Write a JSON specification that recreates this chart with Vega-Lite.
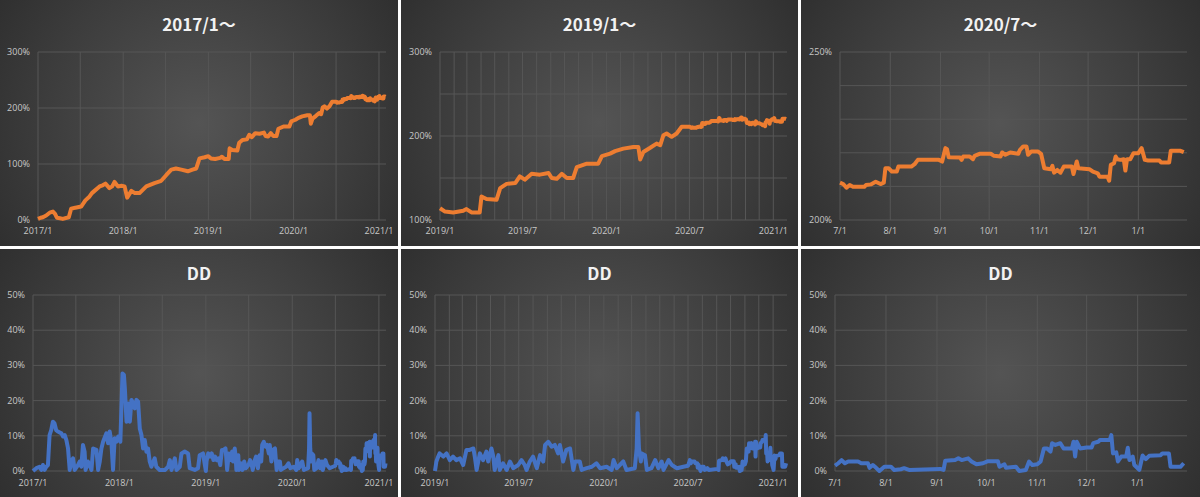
{
"$schema": "https://vega.github.io/schema/vega-lite/v6.json",
"padding": 0,
"background": "white",
"config": {
  "view": {"stroke": null, "fill": {"gradient": "radial", "x1": 0.5, "y1": 0.5, "r1": 0, "x2": 0.5, "y2": 0.5, "r2": 0.72, "stops": [{"offset": 0, "color": "#545454"}, {"offset": 0.55, "color": "#3c3c3c"}, {"offset": 1, "color": "#272727"}]}},
  "concat": {"spacing": 3},
  "text": {"color": "#c8c8c8", "font": "Open Sans", "fontSize": 9},
  "title": {"color": "#f2f2f2", "font": "Noto Sans CJK JP", "fontSize": 17, "fontWeight": "bold", "offset": -35, "anchor": "middle", "frame": "group"}
},
"datasets": {
  "vA": [{"g":"2017-01-01"},{"g":"2017-07-01"},{"g":"2018-01-01"},{"g":"2018-07-01"},{"g":"2019-01-01"},{"g":"2019-07-01"},{"g":"2020-01-01"},{"g":"2020-07-01"},{"g":"2021-01-01"}],
  "vB": [{"g":"2019-01-01"},{"g":"2019-02-01"},{"g":"2019-03-01"},{"g":"2019-04-01"},{"g":"2019-05-01"},{"g":"2019-06-01"},{"g":"2019-07-01"},{"g":"2019-08-01"},{"g":"2019-09-01"},{"g":"2019-10-01"},{"g":"2019-11-01"},{"g":"2019-12-01"},{"g":"2020-01-01"},{"g":"2020-02-01"},{"g":"2020-03-01"},{"g":"2020-04-01"},{"g":"2020-05-01"},{"g":"2020-06-01"},{"g":"2020-07-01"},{"g":"2020-08-01"},{"g":"2020-09-01"},{"g":"2020-10-01"},{"g":"2020-11-01"},{"g":"2020-12-01"},{"g":"2021-01-01"}],
  "vC": [{"g":"2020-07-01"},{"g":"2020-08-01"},{"g":"2020-09-01"},{"g":"2020-10-01"},{"g":"2020-11-01"},{"g":"2020-12-01"},{"g":"2021-01-01"}],
  "xA": [{"g":"2017-01-01"},{"g":"2018-01-01"},{"g":"2019-01-01"},{"g":"2020-01-01"},{"g":"2021-01-01"}],
  "xB": [{"g":"2019-01-01"},{"g":"2019-07-01"},{"g":"2020-01-01"},{"g":"2020-07-01"},{"g":"2021-01-01"}],
  "h1": [{"v":0},{"v":100},{"v":200},{"v":300}],
  "h2": [{"v":100},{"v":150},{"v":200},{"v":250},{"v":300}],
  "y2": [{"v":100},{"v":200},{"v":300}],
  "h3": [{"v":200},{"v":210},{"v":220},{"v":230},{"v":240},{"v":250}],
  "y3": [{"v":200},{"v":250}],
  "hD": [{"v":0},{"v":10},{"v":20},{"v":30},{"v":40},{"v":50}],
  "eq": [
{"d":"2017-01-01","v":2},{"d":"2017-01-12","v":4},{"d":"2017-01-22","v":5},{"d":"2017-02-05","v":8},{"d":"2017-02-20","v":13},{"d":"2017-03-06","v":15},{"d":"2017-03-15","v":11},{"d":"2017-03-23","v":4},{"d":"2017-04-05","v":3},{"d":"2017-04-17","v":2},{"d":"2017-05-13","v":5},{"d":"2017-05-23","v":20},{"d":"2017-06-10","v":22},{"d":"2017-07-05","v":24},{"d":"2017-07-15","v":30},{"d":"2017-07-23","v":35},{"d":"2017-08-10","v":42},{"d":"2017-08-20","v":48},{"d":"2017-08-31","v":52},{"d":"2017-09-22","v":60},{"d":"2017-10-05","v":62},{"d":"2017-10-17","v":65},{"d":"2017-11-03","v":57},{"d":"2017-11-15","v":60},{"d":"2017-11-25","v":68},{"d":"2017-12-09","v":60},{"d":"2017-12-25","v":61},{"d":"2018-01-07","v":60},{"d":"2018-01-18","v":40},{"d":"2018-02-05","v":52},{"d":"2018-02-20","v":48},{"d":"2018-03-12","v":48},{"d":"2018-04-10","v":60},{"d":"2018-05-15","v":66},{"d":"2018-06-13","v":70},{"d":"2018-07-04","v":80},{"d":"2018-07-26","v":90},{"d":"2018-08-15","v":92},{"d":"2018-09-07","v":90},{"d":"2018-10-05","v":87},{"d":"2018-10-25","v":90},{"d":"2018-11-10","v":92},{"d":"2018-11-24","v":110},{"d":"2018-12-16","v":112},
{"d":"2019-01-01","v":114},{"d":"2019-01-12","v":110},{"d":"2019-01-30","v":109},{"d":"2019-02-21","v":111},{"d":"2019-02-28","v":113},{"d":"2019-03-11","v":109},{"d":"2019-03-29","v":109},{"d":"2019-04-02","v":128},{"d":"2019-04-13","v":125},{"d":"2019-05-05","v":124},{"d":"2019-05-13","v":138},{"d":"2019-05-27","v":143},{"d":"2019-06-15","v":144},{"d":"2019-06-25","v":152},{"d":"2019-07-06","v":148},{"d":"2019-07-21","v":155},{"d":"2019-08-08","v":154},{"d":"2019-08-27","v":156},{"d":"2019-09-03","v":150},{"d":"2019-09-14","v":149},{"d":"2019-09-25","v":155},{"d":"2019-10-06","v":150},{"d":"2019-10-20","v":150},{"d":"2019-10-28","v":163},{"d":"2019-11-19","v":167},{"d":"2019-12-14","v":167},{"d":"2019-12-22","v":176},{"d":"2020-01-09","v":179},{"d":"2020-01-20","v":182},{"d":"2020-02-07","v":185},{"d":"2020-02-29","v":187},{"d":"2020-03-11","v":187},{"d":"2020-03-15","v":172},{"d":"2020-03-22","v":181},{"d":"2020-04-06","v":186},{"d":"2020-04-20","v":191},{"d":"2020-04-28","v":189},{"d":"2020-05-05","v":201},{"d":"2020-05-12","v":203},{"d":"2020-05-23","v":199},{"d":"2020-06-03","v":203},{"d":"2020-06-14","v":211},
{"d":"2020-07-01","v":211.1},{"d":"2020-07-03","v":210.7},{"d":"2020-07-05","v":209.6},{"d":"2020-07-07","v":210.4},{"d":"2020-07-09","v":209.9},{"d":"2020-07-16","v":209.9},{"d":"2020-07-17","v":210.4},{"d":"2020-07-20","v":210.6},{"d":"2020-07-23","v":211.4},{"d":"2020-07-26","v":210.7},{"d":"2020-07-28","v":211.1},{"d":"2020-07-29","v":215.4},{"d":"2020-07-31","v":215.4},{"d":"2020-08-02","v":214.4},{"d":"2020-08-05","v":214.4},{"d":"2020-08-06","v":215.9},{"d":"2020-08-14","v":215.9},{"d":"2020-08-16","v":216.6},{"d":"2020-08-18","v":217.9},{"d":"2020-08-31","v":217.9},{"d":"2020-09-02","v":217.4},{"d":"2020-09-04","v":221.4},{"d":"2020-09-05","v":221.1},{"d":"2020-09-06","v":218.7},{"d":"2020-09-13","v":218.6},{"d":"2020-09-14","v":217.9},{"d":"2020-09-15","v":218.9},{"d":"2020-09-19","v":218.9},{"d":"2020-09-21","v":218.1},{"d":"2020-09-22","v":219.1},{"d":"2020-09-25","v":219.7},{"d":"2020-10-02","v":219.7},{"d":"2020-10-04","v":219.1},{"d":"2020-10-08","v":218.9},{"d":"2020-10-09","v":220.1},{"d":"2020-10-11","v":219.4},{"d":"2020-10-14","v":220.1},{"d":"2020-10-19","v":219.7},{"d":"2020-10-20","v":220.9},{"d":"2020-10-22","v":221.9},{"d":"2020-10-24","v":221.9},{"d":"2020-10-25","v":219.4},{"d":"2020-10-27","v":220.4},{"d":"2020-10-31","v":220.4},{"d":"2020-11-02","v":219.7},{"d":"2020-11-04","v":215.4},{"d":"2020-11-08","v":215.1},{"d":"2020-11-09","v":216.1},{"d":"2020-11-10","v":214.1},{"d":"2020-11-12","v":214.9},{"d":"2020-11-14","v":214.1},{"d":"2020-11-16","v":215.9},{"d":"2020-11-21","v":215.9},{"d":"2020-11-22","v":213.7},{"d":"2020-11-24","v":217.4},{"d":"2020-11-25","v":215.4},{"d":"2020-12-02","v":215.1},{"d":"2020-12-04","v":214.4},{"d":"2020-12-07","v":213.9},{"d":"2020-12-08","v":212.9},{"d":"2020-12-13","v":212.9},{"d":"2020-12-14","v":211.7},{"d":"2020-12-15","v":216.4},{"d":"2020-12-17","v":216.9},{"d":"2020-12-18","v":218.9},{"d":"2020-12-19","v":218.1},{"d":"2020-12-21","v":217.9},{"d":"2020-12-23","v":218.1},{"d":"2020-12-24","v":214.7},{"d":"2020-12-25","v":218.1},{"d":"2020-12-27","v":218.1},{"d":"2020-12-29","v":219.9},{"d":"2021-01-01","v":219.9},{"d":"2021-01-03","v":221.4},{"d":"2021-01-05","v":217.9},{"d":"2021-01-07","v":217.7},{"d":"2021-01-14","v":217.7},{"d":"2021-01-15","v":217.1},{"d":"2021-01-20","v":217.1},{"d":"2021-01-21","v":220.6},{"d":"2021-01-27","v":220.6},{"d":"2021-01-29","v":220.2}
  ],
  "dd": [
{"d":"2017-01-01","v":0},{"d":"2017-01-15","v":0.8},{"d":"2017-01-29","v":1.2},{"d":"2017-02-05","v":0.3},{"d":"2017-02-12","v":1.7},{"d":"2017-02-19","v":0.3},{"d":"2017-02-26","v":1.2},{"d":"2017-03-05","v":1.7},{"d":"2017-03-12","v":10.2},{"d":"2017-03-19","v":11.6},{"d":"2017-03-26","v":14},{"d":"2017-04-02","v":13.5},{"d":"2017-04-09","v":11.6},{"d":"2017-04-16","v":11.2},{"d":"2017-05-01","v":10.7},{"d":"2017-05-08","v":9.8},{"d":"2017-05-15","v":10.2},{"d":"2017-05-22","v":8.8},{"d":"2017-05-29","v":6.4},{"d":"2017-06-05","v":0.3},{"d":"2017-06-12","v":2.7},{"d":"2017-06-19","v":3.6},{"d":"2017-06-26","v":0.3},{"d":"2017-07-10","v":1.7},{"d":"2017-07-17","v":2.7},{"d":"2017-07-24","v":1.2},{"d":"2017-07-31","v":7.4},{"d":"2017-08-07","v":5.5},{"d":"2017-08-11","v":0.3},{"d":"2017-08-21","v":2.7},{"d":"2017-09-05","v":0.3},{"d":"2017-09-12","v":6.4},{"d":"2017-09-26","v":6},{"d":"2017-10-03","v":0.3},{"d":"2017-10-10","v":2.7},{"d":"2017-10-17","v":6.4},{"d":"2017-10-24","v":8.3},{"d":"2017-11-07","v":10.7},{"d":"2017-11-14","v":7.9},{"d":"2017-11-21","v":11.2},{"d":"2017-11-28","v":8.3},{"d":"2017-12-05","v":0.3},{"d":"2017-12-12","v":9.3},{"d":"2017-12-19","v":8.3},{"d":"2017-12-27","v":9.8},{"d":"2018-01-05","v":8.3},{"d":"2018-01-14","v":27.7},{"d":"2018-01-20","v":27.3},{"d":"2018-01-24","v":23.5},{"d":"2018-01-31","v":14},{"d":"2018-02-07","v":19.2},{"d":"2018-02-14","v":14},{"d":"2018-02-21","v":20.2},{"d":"2018-02-28","v":19.2},{"d":"2018-03-07","v":17.8},{"d":"2018-03-14","v":20.2},{"d":"2018-03-21","v":19.7},{"d":"2018-03-28","v":12.1},{"d":"2018-04-04","v":10.2},{"d":"2018-04-11","v":6.4},{"d":"2018-04-18","v":8.8},{"d":"2018-04-25","v":5.5},{"d":"2018-05-02","v":6.4},{"d":"2018-05-09","v":2.7},{"d":"2018-05-16","v":1.2},{"d":"2018-05-30","v":3.6},{"d":"2018-06-06","v":1.2},{"d":"2018-06-20","v":0.3},{"d":"2018-07-12","v":0.3},{"d":"2018-07-26","v":1.2},{"d":"2018-08-02","v":3.1},{"d":"2018-08-09","v":0.3},{"d":"2018-08-23","v":3.6},{"d":"2018-08-30","v":0.3},{"d":"2018-09-13","v":1.2},{"d":"2018-09-20","v":5},{"d":"2018-10-04","v":5.5},{"d":"2018-10-18","v":5},{"d":"2018-10-25","v":0.8},{"d":"2018-11-15","v":0.3},{"d":"2018-11-29","v":0.8},{"d":"2018-12-06","v":4.5},{"d":"2018-12-20","v":5},
{"d":"2019-01-01","v":0},{"d":"2019-01-04","v":2.7},{"d":"2019-01-08","v":4.1},{"d":"2019-01-11","v":5},{"d":"2019-01-19","v":4.1},{"d":"2019-01-26","v":5},{"d":"2019-02-02","v":3.1},{"d":"2019-02-09","v":4.1},{"d":"2019-02-16","v":3.1},{"d":"2019-02-24","v":3.6},{"d":"2019-03-03","v":1.7},{"d":"2019-03-10","v":6},{"d":"2019-03-17","v":6},{"d":"2019-03-25","v":6.4},{"d":"2019-03-28","v":4.1},{"d":"2019-04-01","v":0.3},{"d":"2019-04-08","v":5},{"d":"2019-04-15","v":3.1},{"d":"2019-04-22","v":5.5},{"d":"2019-04-26","v":2.7},{"d":"2019-05-03","v":6.4},{"d":"2019-05-07","v":4.1},{"d":"2019-05-10","v":0.3},{"d":"2019-05-18","v":4.5},{"d":"2019-05-21","v":0.3},{"d":"2019-05-28","v":2.2},{"d":"2019-06-05","v":0.3},{"d":"2019-06-12","v":2.7},{"d":"2019-06-19","v":0.8},{"d":"2019-06-30","v":1.7},{"d":"2019-07-07","v":3.1},{"d":"2019-07-14","v":1.7},{"d":"2019-07-18","v":0.3},{"d":"2019-07-25","v":2.7},{"d":"2019-08-01","v":4.1},{"d":"2019-08-09","v":0.8},{"d":"2019-08-16","v":4.5},{"d":"2019-08-23","v":2.7},{"d":"2019-08-27","v":7.4},{"d":"2019-09-03","v":8.3},{"d":"2019-09-10","v":6.9},{"d":"2019-09-17","v":7.4},{"d":"2019-09-24","v":5},{"d":"2019-09-28","v":7.4},{"d":"2019-10-05","v":2.7},{"d":"2019-10-12","v":6},{"d":"2019-10-20","v":6.4},{"d":"2019-10-27","v":0.3},{"d":"2019-10-31","v":2.7},{"d":"2019-11-10","v":2.7},{"d":"2019-11-14","v":0.3},{"d":"2019-11-25","v":0.8},{"d":"2019-12-06","v":1.2},{"d":"2019-12-16","v":2.2},{"d":"2019-12-24","v":0.8},{"d":"2020-01-07","v":1.2},{"d":"2020-01-18","v":0.3},{"d":"2020-01-22","v":3.1},{"d":"2020-01-29","v":0.8},{"d":"2020-02-12","v":2.7},{"d":"2020-02-19","v":0.3},{"d":"2020-03-08","v":0.8},{"d":"2020-03-12","v":6.4},{"d":"2020-03-14","v":16.4},{"d":"2020-03-17","v":6.4},{"d":"2020-03-21","v":2.7},{"d":"2020-03-23","v":5},{"d":"2020-03-30","v":4.5},{"d":"2020-04-03","v":0.3},{"d":"2020-04-13","v":0.8},{"d":"2020-04-21","v":3.1},{"d":"2020-04-28","v":0.8},{"d":"2020-05-05","v":2.7},{"d":"2020-05-09","v":0.3},{"d":"2020-05-20","v":3.1},{"d":"2020-05-27","v":1.7},{"d":"2020-06-07","v":0.8},{"d":"2020-06-21","v":1.2},
{"d":"2020-07-01","v":1.5},{"d":"2020-07-03","v":2.2},{"d":"2020-07-05","v":3.1},{"d":"2020-07-07","v":2.2},{"d":"2020-07-09","v":2.7},{"d":"2020-07-15","v":2.7},{"d":"2020-07-17","v":2.2},{"d":"2020-07-21","v":2.2},{"d":"2020-07-22","v":0.9},{"d":"2020-07-24","v":1.7},{"d":"2020-07-26","v":0.9},{"d":"2020-07-28","v":0},{"d":"2020-07-31","v":1.2},{"d":"2020-08-04","v":1.2},{"d":"2020-08-06","v":0.3},{"d":"2020-08-10","v":0.5},{"d":"2020-08-12","v":0.8},{"d":"2020-08-15","v":0.3},{"d":"2020-09-03","v":0.6},{"d":"2020-09-05","v":0.3},{"d":"2020-09-06","v":2.9},{"d":"2020-09-12","v":3.1},{"d":"2020-09-14","v":3.6},{"d":"2020-09-16","v":3.1},{"d":"2020-09-20","v":3.6},{"d":"2020-09-22","v":2.7},{"d":"2020-09-25","v":1.9},{"d":"2020-09-29","v":2.2},{"d":"2020-10-02","v":2.8},{"d":"2020-10-08","v":2.8},{"d":"2020-10-09","v":1.2},{"d":"2020-10-12","v":1.9},{"d":"2020-10-13","v":0.9},{"d":"2020-10-19","v":1.2},{"d":"2020-10-21","v":0},{"d":"2020-10-25","v":0.3},{"d":"2020-10-27","v":2.7},{"d":"2020-10-29","v":1.7},{"d":"2020-11-01","v":1.9},{"d":"2020-11-03","v":2.7},{"d":"2020-11-05","v":6.4},{"d":"2020-11-07","v":6.4},{"d":"2020-11-09","v":5.5},{"d":"2020-11-10","v":7.9},{"d":"2020-11-12","v":7.4},{"d":"2020-11-15","v":7.9},{"d":"2020-11-17","v":6.4},{"d":"2020-11-22","v":6.4},{"d":"2020-11-23","v":8.3},{"d":"2020-11-24","v":4.1},{"d":"2020-11-25","v":8.3},{"d":"2020-11-27","v":6.4},{"d":"2020-12-01","v":6.7},{"d":"2020-12-04","v":6.7},{"d":"2020-12-05","v":7.9},{"d":"2020-12-08","v":8.3},{"d":"2020-12-09","v":8.8},{"d":"2020-12-15","v":8.8},{"d":"2020-12-16","v":10.2},{"d":"2020-12-17","v":5},{"d":"2020-12-19","v":5.3},{"d":"2020-12-20","v":2.7},{"d":"2020-12-22","v":4.1},{"d":"2020-12-25","v":4.1},{"d":"2020-12-26","v":6.6},{"d":"2020-12-27","v":3.1},{"d":"2020-12-29","v":4.1},{"d":"2020-12-30","v":1.7},{"d":"2021-01-02","v":0.3},{"d":"2021-01-04","v":4.4},{"d":"2021-01-06","v":3.4},{"d":"2021-01-08","v":4.3},{"d":"2021-01-15","v":4.5},{"d":"2021-01-16","v":5},{"d":"2021-01-20","v":5},{"d":"2021-01-21","v":1.2},{"d":"2021-01-27","v":1.2},{"d":"2021-01-29","v":2.2}
  ]
},
"vconcat": [
{"hconcat": [
 {"width": 398, "height": 246, "title": "2017/1～",
  "layer": [
   {"data": {"name": "vA"}, "mark": {"type": "rule", "color": "#565656", "strokeWidth": 1},
    "encoding": {"x": {"field": "g", "type": "temporal", "axis": null, "scale": {"type": "utc", "domain": [{"year":2017,"month":1,"date":1,"utc":true},{"year":2021,"month":1,"date":31,"utc":true}], "range": [38, 386], "nice": false}},
                 "y": {"datum": 0, "type": "quantitative", "axis": null, "scale": {"domain": [0, 300], "range": [220, 52], "nice": false, "zero": false}},
                 "y2": {"datum": 300}}},
   {"data": {"name": "h1"}, "mark": {"type": "rule", "color": "#565656", "strokeWidth": 1},
    "encoding": {"y": {"field": "v", "type": "quantitative", "axis": null},
                 "x": {"datum": {"year":2017,"month":1,"date":1,"utc":true}, "type": "temporal", "axis": null},
                 "x2": {"datum": {"year":2021,"month":1,"date":31,"utc":true}}}},
   {"data": {"name": "xA"}, "transform": [{"calculate": "utcFormat(toDate(datum.g), '%Y/%-m')", "as": "t"}], "mark": {"type": "text", "baseline": "top", "dy": 7},
    "encoding": {"x": {"field": "g", "type": "temporal", "axis": null}, "y": {"datum": 0, "type": "quantitative", "axis": null}, "text": {"field": "t"}}},
   {"data": {"name": "h1"}, "transform": [{"calculate": "datum.v + '%'", "as": "t"}], "mark": {"type": "text", "align": "right", "baseline": "middle", "dx": -8},
    "encoding": {"y": {"field": "v", "type": "quantitative", "axis": null}, "x": {"datum": {"year":2017,"month":1,"date":1,"utc":true}, "type": "temporal", "axis": null}, "text": {"field": "t"}}},
   {"data": {"name": "eq"}, "mark": {"type": "line", "color": "#ED7D31", "strokeWidth": 4, "strokeJoin": "round"},
    "encoding": {"x": {"field": "d", "type": "temporal", "axis": null},
                 "y": {"field": "v", "type": "quantitative", "axis": null}}}
  ]},
 {"width": 397, "height": 246, "title": "2019/1～",
  "layer": [
   {"data": {"name": "vB"}, "mark": {"type": "rule", "color": "#565656", "strokeWidth": 1},
    "encoding": {"x": {"field": "g", "type": "temporal", "axis": null, "scale": {"type": "utc", "domain": [{"year":2019,"month":1,"date":1,"utc":true},{"year":2021,"month":1,"date":31,"utc":true}], "range": [39, 386], "nice": false}},
                 "y": {"datum": 100, "type": "quantitative", "axis": null, "scale": {"domain": [100, 300], "range": [220, 52], "nice": false, "zero": false}},
                 "y2": {"datum": 300}}},
   {"data": {"name": "h2"}, "mark": {"type": "rule", "color": "#565656", "strokeWidth": 1},
    "encoding": {"y": {"field": "v", "type": "quantitative", "axis": null},
                 "x": {"datum": {"year":2019,"month":1,"date":1,"utc":true}, "type": "temporal", "axis": null},
                 "x2": {"datum": {"year":2021,"month":1,"date":31,"utc":true}}}},
   {"data": {"name": "xB"}, "transform": [{"calculate": "utcFormat(toDate(datum.g), '%Y/%-m')", "as": "t"}], "mark": {"type": "text", "baseline": "top", "dy": 7},
    "encoding": {"x": {"field": "g", "type": "temporal", "axis": null}, "y": {"datum": 100, "type": "quantitative", "axis": null}, "text": {"field": "t"}}},
   {"data": {"name": "y2"}, "transform": [{"calculate": "datum.v + '%'", "as": "t"}], "mark": {"type": "text", "align": "right", "baseline": "middle", "dx": -8},
    "encoding": {"y": {"field": "v", "type": "quantitative", "axis": null}, "x": {"datum": {"year":2019,"month":1,"date":1,"utc":true}, "type": "temporal", "axis": null}, "text": {"field": "t"}}},
   {"data": {"name": "eq"}, "transform": [{"filter": {"field": "d", "gte": {"year":2019,"month":1,"date":1,"utc":true}}}],
    "mark": {"type": "line", "color": "#ED7D31", "strokeWidth": 4, "strokeJoin": "round"},
    "encoding": {"x": {"field": "d", "type": "temporal", "axis": null},
                 "y": {"field": "v", "type": "quantitative", "axis": null}}}
  ]},
 {"width": 399, "height": 246, "title": "2020/7～",
  "layer": [
   {"data": {"name": "vC"}, "mark": {"type": "rule", "color": "#565656", "strokeWidth": 1},
    "encoding": {"x": {"field": "g", "type": "temporal", "axis": null, "scale": {"type": "utc", "domain": [{"year":2020,"month":7,"date":1,"utc":true},{"year":2021,"month":1,"date":31,"utc":true}], "range": [39, 386], "nice": false}},
                 "y": {"datum": 200, "type": "quantitative", "axis": null, "scale": {"domain": [200, 250], "range": [220, 52], "nice": false, "zero": false}},
                 "y2": {"datum": 250}}},
   {"data": {"name": "h3"}, "mark": {"type": "rule", "color": "#565656", "strokeWidth": 1},
    "encoding": {"y": {"field": "v", "type": "quantitative", "axis": null},
                 "x": {"datum": {"year":2020,"month":7,"date":1,"utc":true}, "type": "temporal", "axis": null},
                 "x2": {"datum": {"year":2021,"month":1,"date":31,"utc":true}}}},
   {"data": {"name": "vC"}, "transform": [{"calculate": "utcFormat(toDate(datum.g), '%-m/%-d')", "as": "t"}], "mark": {"type": "text", "baseline": "top", "dy": 7},
    "encoding": {"x": {"field": "g", "type": "temporal", "axis": null}, "y": {"datum": 200, "type": "quantitative", "axis": null}, "text": {"field": "t"}}},
   {"data": {"name": "y3"}, "transform": [{"calculate": "datum.v + '%'", "as": "t"}], "mark": {"type": "text", "align": "right", "baseline": "middle", "dx": -8},
    "encoding": {"y": {"field": "v", "type": "quantitative", "axis": null}, "x": {"datum": {"year":2020,"month":7,"date":1,"utc":true}, "type": "temporal", "axis": null}, "text": {"field": "t"}}},
   {"data": {"name": "eq"}, "transform": [{"filter": {"field": "d", "gte": {"year":2020,"month":7,"date":1,"utc":true}}}],
    "mark": {"type": "line", "color": "#ED7D31", "strokeWidth": 4, "strokeJoin": "round"},
    "encoding": {"x": {"field": "d", "type": "temporal", "axis": null},
                 "y": {"field": "v", "type": "quantitative", "axis": null}}}
  ]}
]},
{"hconcat": [
 {"width": 398, "height": 248, "title": "DD",
  "layer": [
   {"data": {"name": "vA"}, "mark": {"type": "rule", "color": "#565656", "strokeWidth": 1},
    "encoding": {"x": {"field": "g", "type": "temporal", "axis": null, "scale": {"type": "utc", "domain": [{"year":2017,"month":1,"date":1,"utc":true},{"year":2021,"month":1,"date":31,"utc":true}], "range": [33, 386], "nice": false}},
                 "y": {"datum": 0, "type": "quantitative", "axis": null, "scale": {"domain": [0, 50], "range": [222, 46], "nice": false, "zero": false}},
                 "y2": {"datum": 50}}},
   {"data": {"name": "hD"}, "mark": {"type": "rule", "color": "#565656", "strokeWidth": 1},
    "encoding": {"y": {"field": "v", "type": "quantitative", "axis": null},
                 "x": {"datum": {"year":2017,"month":1,"date":1,"utc":true}, "type": "temporal", "axis": null},
                 "x2": {"datum": {"year":2021,"month":1,"date":31,"utc":true}}}},
   {"data": {"name": "xA"}, "transform": [{"calculate": "utcFormat(toDate(datum.g), '%Y/%-m')", "as": "t"}], "mark": {"type": "text", "baseline": "top", "dy": 8},
    "encoding": {"x": {"field": "g", "type": "temporal", "axis": null}, "y": {"datum": 0, "type": "quantitative", "axis": null}, "text": {"field": "t"}}},
   {"data": {"name": "hD"}, "transform": [{"calculate": "datum.v + '%'", "as": "t"}], "mark": {"type": "text", "align": "right", "baseline": "middle", "dx": -8},
    "encoding": {"y": {"field": "v", "type": "quantitative", "axis": null}, "x": {"datum": {"year":2017,"month":1,"date":1,"utc":true}, "type": "temporal", "axis": null}, "text": {"field": "t"}}},
   {"data": {"name": "dd"}, "mark": {"type": "line", "color": "#4472C4", "strokeWidth": 4, "strokeJoin": "round"},
    "encoding": {"x": {"field": "d", "type": "temporal", "axis": null},
                 "y": {"field": "v", "type": "quantitative", "axis": null}}}
  ]},
 {"width": 397, "height": 248, "title": "DD",
  "layer": [
   {"data": {"name": "vB"}, "mark": {"type": "rule", "color": "#565656", "strokeWidth": 1},
    "encoding": {"x": {"field": "g", "type": "temporal", "axis": null, "scale": {"type": "utc", "domain": [{"year":2019,"month":1,"date":1,"utc":true},{"year":2021,"month":1,"date":31,"utc":true}], "range": [34, 386], "nice": false}},
                 "y": {"datum": 0, "type": "quantitative", "axis": null, "scale": {"domain": [0, 50], "range": [222, 46], "nice": false, "zero": false}},
                 "y2": {"datum": 50}}},
   {"data": {"name": "hD"}, "mark": {"type": "rule", "color": "#565656", "strokeWidth": 1},
    "encoding": {"y": {"field": "v", "type": "quantitative", "axis": null},
                 "x": {"datum": {"year":2019,"month":1,"date":1,"utc":true}, "type": "temporal", "axis": null},
                 "x2": {"datum": {"year":2021,"month":1,"date":31,"utc":true}}}},
   {"data": {"name": "xB"}, "transform": [{"calculate": "utcFormat(toDate(datum.g), '%Y/%-m')", "as": "t"}], "mark": {"type": "text", "baseline": "top", "dy": 8},
    "encoding": {"x": {"field": "g", "type": "temporal", "axis": null}, "y": {"datum": 0, "type": "quantitative", "axis": null}, "text": {"field": "t"}}},
   {"data": {"name": "hD"}, "transform": [{"calculate": "datum.v + '%'", "as": "t"}], "mark": {"type": "text", "align": "right", "baseline": "middle", "dx": -8},
    "encoding": {"y": {"field": "v", "type": "quantitative", "axis": null}, "x": {"datum": {"year":2019,"month":1,"date":1,"utc":true}, "type": "temporal", "axis": null}, "text": {"field": "t"}}},
   {"data": {"name": "dd"}, "transform": [{"filter": {"field": "d", "gte": {"year":2019,"month":1,"date":1,"utc":true}}}],
    "mark": {"type": "line", "color": "#4472C4", "strokeWidth": 4, "strokeJoin": "round"},
    "encoding": {"x": {"field": "d", "type": "temporal", "axis": null},
                 "y": {"field": "v", "type": "quantitative", "axis": null}}}
  ]},
 {"width": 399, "height": 248, "title": "DD",
  "layer": [
   {"data": {"name": "vC"}, "mark": {"type": "rule", "color": "#565656", "strokeWidth": 1},
    "encoding": {"x": {"field": "g", "type": "temporal", "axis": null, "scale": {"type": "utc", "domain": [{"year":2020,"month":7,"date":1,"utc":true},{"year":2021,"month":1,"date":31,"utc":true}], "range": [34, 386], "nice": false}},
                 "y": {"datum": 0, "type": "quantitative", "axis": null, "scale": {"domain": [0, 50], "range": [222, 46], "nice": false, "zero": false}},
                 "y2": {"datum": 50}}},
   {"data": {"name": "hD"}, "mark": {"type": "rule", "color": "#565656", "strokeWidth": 1},
    "encoding": {"y": {"field": "v", "type": "quantitative", "axis": null},
                 "x": {"datum": {"year":2020,"month":7,"date":1,"utc":true}, "type": "temporal", "axis": null},
                 "x2": {"datum": {"year":2021,"month":1,"date":31,"utc":true}}}},
   {"data": {"name": "vC"}, "transform": [{"calculate": "utcFormat(toDate(datum.g), '%-m/%-d')", "as": "t"}], "mark": {"type": "text", "baseline": "top", "dy": 8},
    "encoding": {"x": {"field": "g", "type": "temporal", "axis": null}, "y": {"datum": 0, "type": "quantitative", "axis": null}, "text": {"field": "t"}}},
   {"data": {"name": "hD"}, "transform": [{"calculate": "datum.v + '%'", "as": "t"}], "mark": {"type": "text", "align": "right", "baseline": "middle", "dx": -8},
    "encoding": {"y": {"field": "v", "type": "quantitative", "axis": null}, "x": {"datum": {"year":2020,"month":7,"date":1,"utc":true}, "type": "temporal", "axis": null}, "text": {"field": "t"}}},
   {"data": {"name": "dd"}, "transform": [{"filter": {"field": "d", "gte": {"year":2020,"month":7,"date":1,"utc":true}}}],
    "mark": {"type": "line", "color": "#4472C4", "strokeWidth": 4, "strokeJoin": "round"},
    "encoding": {"x": {"field": "d", "type": "temporal", "axis": null},
                 "y": {"field": "v", "type": "quantitative", "axis": null}}}
  ]}
]}
]
}
